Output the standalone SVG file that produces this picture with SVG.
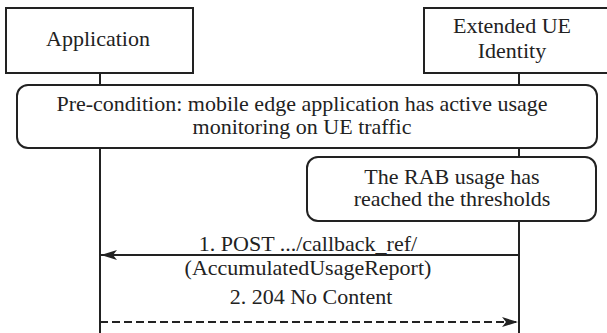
<svg xmlns="http://www.w3.org/2000/svg" width="607" height="333" viewBox="0 0 607 333">
<defs>
<style>
text{font-family:'Liberation Serif','Times New Roman','DejaVu Serif',Times,serif;font-size:22px;fill:#222;text-anchor:middle}
.box{fill:#fff;stroke:#222;stroke-width:2}
.life{stroke:#222;stroke-width:2;fill:none}
.msg{stroke:#222;stroke-width:2;fill:none}
.dash{stroke-dasharray:8 4}
</style>
<marker id="ah" viewBox="0 0 16 10" refX="16" refY="5" markerWidth="16" markerHeight="10" markerUnits="userSpaceOnUse" orient="auto">
<path d="M0,0 L16,5 L0,10 L4,5 Z" fill="#222"/>
</marker>
</defs>
<g font-family="Liberation Serif, Times New Roman, DejaVu Serif, serif" font-size="22">
<g id="lifelines">
<line class="life" x1="100" y1="73" x2="100" y2="333"/>
<line class="life" x1="519" y1="73" x2="519" y2="333"/>
</g>
<g id="application">
<rect class="box" x="6" y="8" width="187" height="65"/>
<text x="98" y="46">Application</text>
</g>
<g id="extended-ue-identity">
<rect class="box" x="424" y="8" width="192" height="65"/>
<text x="512" y="33">Extended UE</text>
<text x="512" y="58">Identity</text>
</g>
<g id="precondition">
<rect class="box" x="17" y="85" width="580" height="63" rx="11"/>
<text x="302" y="111">Pre-condition: mobile edge application has active usage</text>
<text x="302" y="134">monitoring on UE traffic</text>
</g>
<g id="rab-usage">
<rect class="box" x="307" y="157" width="289" height="64" rx="11"/>
<text x="452" y="184">The RAB usage has</text>
<text x="452" y="206">reached the thresholds</text>
</g>
<g id="connectors">
<line class="msg" x1="519" y1="255" x2="101" y2="255" marker-end="url(#ah)"/>
<text x="308" y="251">1. POST .../callback_ref/</text>
<text x="308" y="275">(AccumulatedUsageReport)</text>
<line class="msg dash" x1="100" y1="322" x2="518" y2="322" marker-end="url(#ah)"/>
<text x="311" y="304">2. 204 No Content</text>
</g>
</g>
</svg>
